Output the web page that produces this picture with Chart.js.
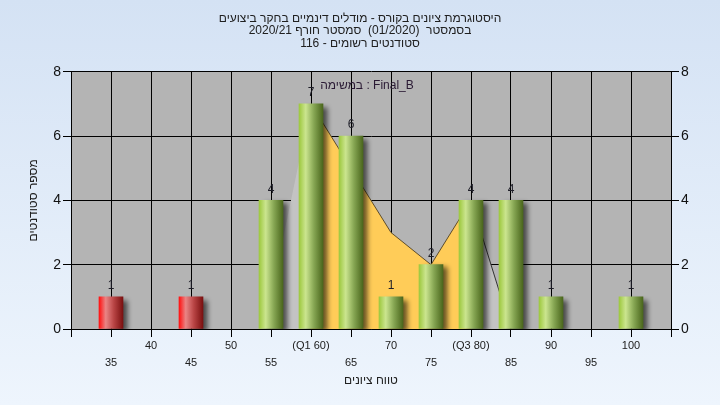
<!DOCTYPE html>
<html>
<head>
<meta charset="utf-8">
<script src="https://cdn.jsdelivr.net/npm/chart.js@4.4.1/dist/chart.umd.min.js"></script>
<style>
  html, body { margin: 0; padding: 0; }
  body { width: 720px; height: 405px; background: linear-gradient(#d4e2f4, #eef5fd); overflow: hidden; }
</style>
</head>
<body>
<canvas id="grafica" width="720" height="405"></canvas>
<script>
const titulo = [
    'היסטוגרמת ציונים בקורס - מודלים דינמיים בחקר ביצועים',
    'בסמסטר  (01/2020)  סמסטר חורף 2020/21',
    'סטודנטים רשומים - 116'
];
const tarea = 'במשימה : Final_B';
const tituloX = 'טווח ציונים';
const tituloY = 'מספר סטודנטים';

// histograma
const categorias = [35, 40, 45, 50, 55, 60, 65, 70, 75, 80, 85, 90, 95, 100];
const cantidades = [1, 0, 1, 0, 4, 7, 6, 1, 2, 4, 4, 1, 0, 1];
const limiteAprobado = 55;

// area de fondo (naranja entre cuartiles)
const curvaX = [55, 60, 65, 70, 75, 80, 85];
const curvaY = [1, 7, 5, 3, 2, 4, 0];
const cuartiles = [60, 80];

// ejes: min, max, paso
const ejeX = [30, 105, 5];
const ejeY = [0, 8, 2];

const FUENTE = '"Liberation Sans", Arial, sans-serif';
const VERDE = ['#9dc83e', '#cbe58f', '#86a653', '#4a661c'];
const ROJO = ['#ff1010', '#ea8585', '#b84444', '#7a1010'];
const ANCHO = 24;

Chart.defaults.font.family = FUENTE;

const degradado = (ctx, x, colores) => {
    const g = ctx.createLinearGradient(x - ANCHO / 2, 0, x + ANCHO / 2, 0);
    g.addColorStop(0, colores[0]);
    g.addColorStop(0.28, colores[1]);
    g.addColorStop(0.62, colores[2]);
    g.addColorStop(1, colores[3]);
    return g;
};

const colorBarra = (c) => {
    const cat = categorias[c.dataIndex];
    const cols = cat < limiteAprobado ? ROJO : VERDE;
    const ejx = c.chart.scales && c.chart.scales.x;
    if (!c.chart.chartArea || !ejx || cat === undefined) return cols[0];
    return degradado(c.chart.ctx, ejx.getPixelForValue(cat), cols);
};

const etiquetaX = (v) => {
    if (v <= ejeX[0] || v >= ejeX[1]) return '';
    let txt = String(v);
    if (v === cuartiles[0]) txt = `(Q1 ${v})`;
    if (v === cuartiles[1]) txt = `(Q3 ${v})`;
    return v % 10 === 0 ? txt : ['', txt];
};

const fondo = {
    id: 'fondo',
    beforeDraw(chart) {
        const { ctx, chartArea: a } = chart;
        ctx.save();
        ctx.fillStyle = '#b4b4b4';
        ctx.fillRect(a.left, a.top, a.width, a.height);
        ctx.restore();
    }
};

const sombra = {
    id: 'sombra',
    beforeDatasetDraw(chart, args) {
        if (args.meta.type !== 'bar') return;
        const ctx = chart.ctx;
        ctx.save();
        ctx.shadowColor = 'rgba(0,0,0,0.6)';
        ctx.shadowBlur = 5;
        ctx.shadowOffsetX = 5;
        ctx.shadowOffsetY = 3;
    },
    afterDatasetDraw(chart, args) {
        if (args.meta.type === 'bar') chart.ctx.restore();
    }
};

const etiquetas = {
    id: 'etiquetas',
    afterDatasetsDraw(chart) {
        const { ctx, chartArea: a } = chart;
        const meta = chart.getDatasetMeta(2);
        ctx.save();
        ctx.font = `12px ${FUENTE}`;
        ctx.textAlign = 'center';
        ctx.textBaseline = 'middle';
        ctx.fillStyle = '#1e1e28';
        meta.data.forEach((barra, i) => {
            if (!cantidades[i]) return;
            ctx.fillText(String(cantidades[i]), barra.x, barra.y - 11);
        });
        ctx.fillStyle = '#2a1a34';
        ctx.fillText(tarea, (a.left + a.right) / 2 - 4, a.top + 14);
        ctx.restore();
    }
};

const puntos = (xs, ys) => xs.map((x, i) => ({ x, y: ys[i] }));
const enCuartiles = puntos(curvaX, curvaY)
    .filter(p => p.x >= cuartiles[0] && p.x <= cuartiles[1]);
// las categorias vacias no dibujan barra (ni sombra)
const barras = puntos(categorias, cantidades).map(p => ({ x: p.x, y: p.y || null }));

new Chart(document.getElementById('grafica'), {
    type: 'bar',
    data: {
        datasets: [
            {
                type: 'line',
                data: puntos(curvaX, curvaY),
                order: 2,
                fill: 'origin',
                backgroundColor: '#c3c3c3',
                borderColor: 'rgba(0,0,0,0)',
                borderWidth: 1,
                pointRadius: 0,
                tension: 0,
                segment: {
                    borderColor: c => c.p0.parsed.x >= cuartiles[1] ? '#333333' : 'rgba(0,0,0,0)'
                }
            },
            {
                type: 'line',
                data: enCuartiles,
                order: 1,
                fill: 'origin',
                backgroundColor: '#ffcc58',
                borderColor: 'rgba(70,55,25,0.85)',
                borderWidth: 1,
                pointRadius: 0,
                tension: 0
            },
            {
                type: 'bar',
                data: barras,
                order: 0,
                barThickness: ANCHO,
                borderWidth: 0,
                backgroundColor: colorBarra
            }
        ]
    },
    options: {
        responsive: false,
        animation: false,
        events: [],
        plugins: {
            legend: { display: false },
            tooltip: { enabled: false },
            title: {
                display: true,
                text: titulo,
                color: '#202020',
                font: { size: 12, weight: 'normal', lineHeight: 1.05 },
                padding: { top: 12, bottom: 22 }
            }
        },
        scales: {
            x: {
                type: 'linear',
                min: ejeX[0],
                max: ejeX[1],
                offset: false,
                ticks: {
                    stepSize: ejeX[2],
                    autoSkip: false,
                    maxRotation: 0,
                    padding: 0,
                    color: '#202020',
                    font: { size: 11, lineHeight: 1.55 },
                    callback: etiquetaX
                },
                grid: { color: '#000', tickColor: '#000', tickLength: 8, offset: false },
                border: { color: '#000' },
                title: {
                    display: true,
                    text: tituloX,
                    color: '#202020',
                    font: { size: 12 },
                    padding: { top: 3, bottom: 17 }
                },
                afterFit: s => { s.height = 76; }
            },
            y: {
                position: 'left',
                min: ejeY[0],
                max: ejeY[1],
                ticks: { stepSize: ejeY[2], padding: 2, color: '#111', font: { size: 14 } },
                grid: { color: '#000', tickColor: '#000', tickLength: 8 },
                border: { color: '#000' },
                title: {
                    display: true,
                    text: tituloY,
                    color: '#202020',
                    font: { size: 12 },
                    padding: { top: 26, bottom: 0 }
                },
                afterFit: s => { s.width = 71; }
            },
            y2: {
                position: 'right',
                min: ejeY[0],
                max: ejeY[1],
                ticks: { stepSize: ejeY[2], padding: 2, color: '#111', font: { size: 14 } },
                grid: { drawOnChartArea: false, color: '#000', tickColor: '#000', tickLength: 8 },
                border: { color: '#000' },
                afterFit: s => { s.width = 49; }
            }
        }
    },
    plugins: [fondo, sombra, etiquetas]
});
</script>
</body>
</html>
